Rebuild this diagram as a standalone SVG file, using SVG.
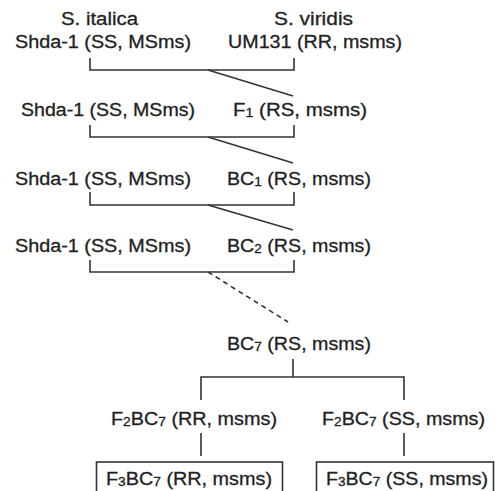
<svg xmlns="http://www.w3.org/2000/svg" width="495" height="491" viewBox="0 0 495 491">
<style>
text{font-family:"Liberation Sans",Arial,sans-serif;font-size:18px;fill:#222;stroke:#222;stroke-width:0.3}
.sub{font-size:12.5px}
.ln{stroke:#333;stroke-width:1.6;fill:none}
.dash{stroke-dasharray:5,4}
.box{fill:#fff;stroke:#333;stroke-width:1.6}
</style>
<rect width="495" height="491" fill="#fff"/>
<g id="connectors">
<path class="ln" d="M90,58V70H294V58"/>
<path class="ln" d="M208,70L293,96"/>
<path class="ln" d="M90,125V137H294V125"/>
<path class="ln" d="M208,137L293,163"/>
<path class="ln" d="M90,192V205H294V192"/>
<path class="ln" d="M208,205L293,230"/>
<path class="ln" d="M90,260V272H294V260"/>
<path class="ln dash" d="M208,272L288,322"/>
<path class="ln" d="M293,359V377M201,400V377H404V400"/>
<path class="ln" d="M201,433V456M404,433V456"/>
</g>
<g id="n-italica"><text x="61" y="25" textLength="77" lengthAdjust="spacingAndGlyphs">S. italica</text></g>
<g id="n-viridis"><text x="274" y="25" textLength="79" lengthAdjust="spacingAndGlyphs">S. viridis</text></g>
<g id="n-shda1"><text x="15" y="48" textLength="176" lengthAdjust="spacingAndGlyphs">Shda-1 (SS, MSms)</text></g>
<g id="n-um131"><text x="228" y="48" textLength="174" lengthAdjust="spacingAndGlyphs">UM131 (RR, msms)</text></g>
<g id="n-shda2"><text x="21" y="116" textLength="174" lengthAdjust="spacingAndGlyphs">Shda-1 (SS, MSms)</text></g>
<g id="n-f1"><text x="233" y="116" textLength="134" lengthAdjust="spacingAndGlyphs">F<tspan class="sub" dy="1">1</tspan><tspan dy="-1"> (RS, msms)</tspan></text></g>
<g id="n-shda3"><text x="15" y="185" textLength="176" lengthAdjust="spacingAndGlyphs">Shda-1 (SS, MSms)</text></g>
<g id="n-bc1"><text x="227" y="185" textLength="144" lengthAdjust="spacingAndGlyphs">BC<tspan class="sub" dy="1">1</tspan><tspan dy="-1"> (RS, msms)</tspan></text></g>
<g id="n-shda4"><text x="15" y="252" textLength="176" lengthAdjust="spacingAndGlyphs">Shda-1 (SS, MSms)</text></g>
<g id="n-bc2"><text x="227" y="252" textLength="144" lengthAdjust="spacingAndGlyphs">BC<tspan class="sub" dy="1">2</tspan><tspan dy="-1"> (RS, msms)</tspan></text></g>
<g id="n-bc7"><text x="227" y="350" textLength="144" lengthAdjust="spacingAndGlyphs">BC<tspan class="sub" dy="1">7</tspan><tspan dy="-1"> (RS, msms)</tspan></text></g>
<g id="n-f2rr"><text x="111" y="425" textLength="166" lengthAdjust="spacingAndGlyphs">F<tspan class="sub" dy="1">2</tspan><tspan dy="-1">BC</tspan><tspan class="sub" dy="1">7</tspan><tspan dy="-1"> (RR, msms)</tspan></text></g>
<g id="n-f2ss"><text x="322" y="425" textLength="163" lengthAdjust="spacingAndGlyphs">F<tspan class="sub" dy="1">2</tspan><tspan dy="-1">BC</tspan><tspan class="sub" dy="1">7</tspan><tspan dy="-1"> (SS, msms)</tspan></text></g>
<g id="n-f3rr"><rect class="box" x="96.5" y="462" width="186" height="40"/><text x="106" y="485" textLength="166" lengthAdjust="spacingAndGlyphs">F<tspan class="sub" dy="1">3</tspan><tspan dy="-1">BC</tspan><tspan class="sub" dy="1">7</tspan><tspan dy="-1"> (RR, msms)</tspan></text></g>
<g id="n-f3ss"><rect class="box" x="316.5" y="462" width="177" height="40"/><text x="326" y="485" textLength="162" lengthAdjust="spacingAndGlyphs">F<tspan class="sub" dy="1">3</tspan><tspan dy="-1">BC</tspan><tspan class="sub" dy="1">7</tspan><tspan dy="-1"> (SS, msms)</tspan></text></g>
</svg>
